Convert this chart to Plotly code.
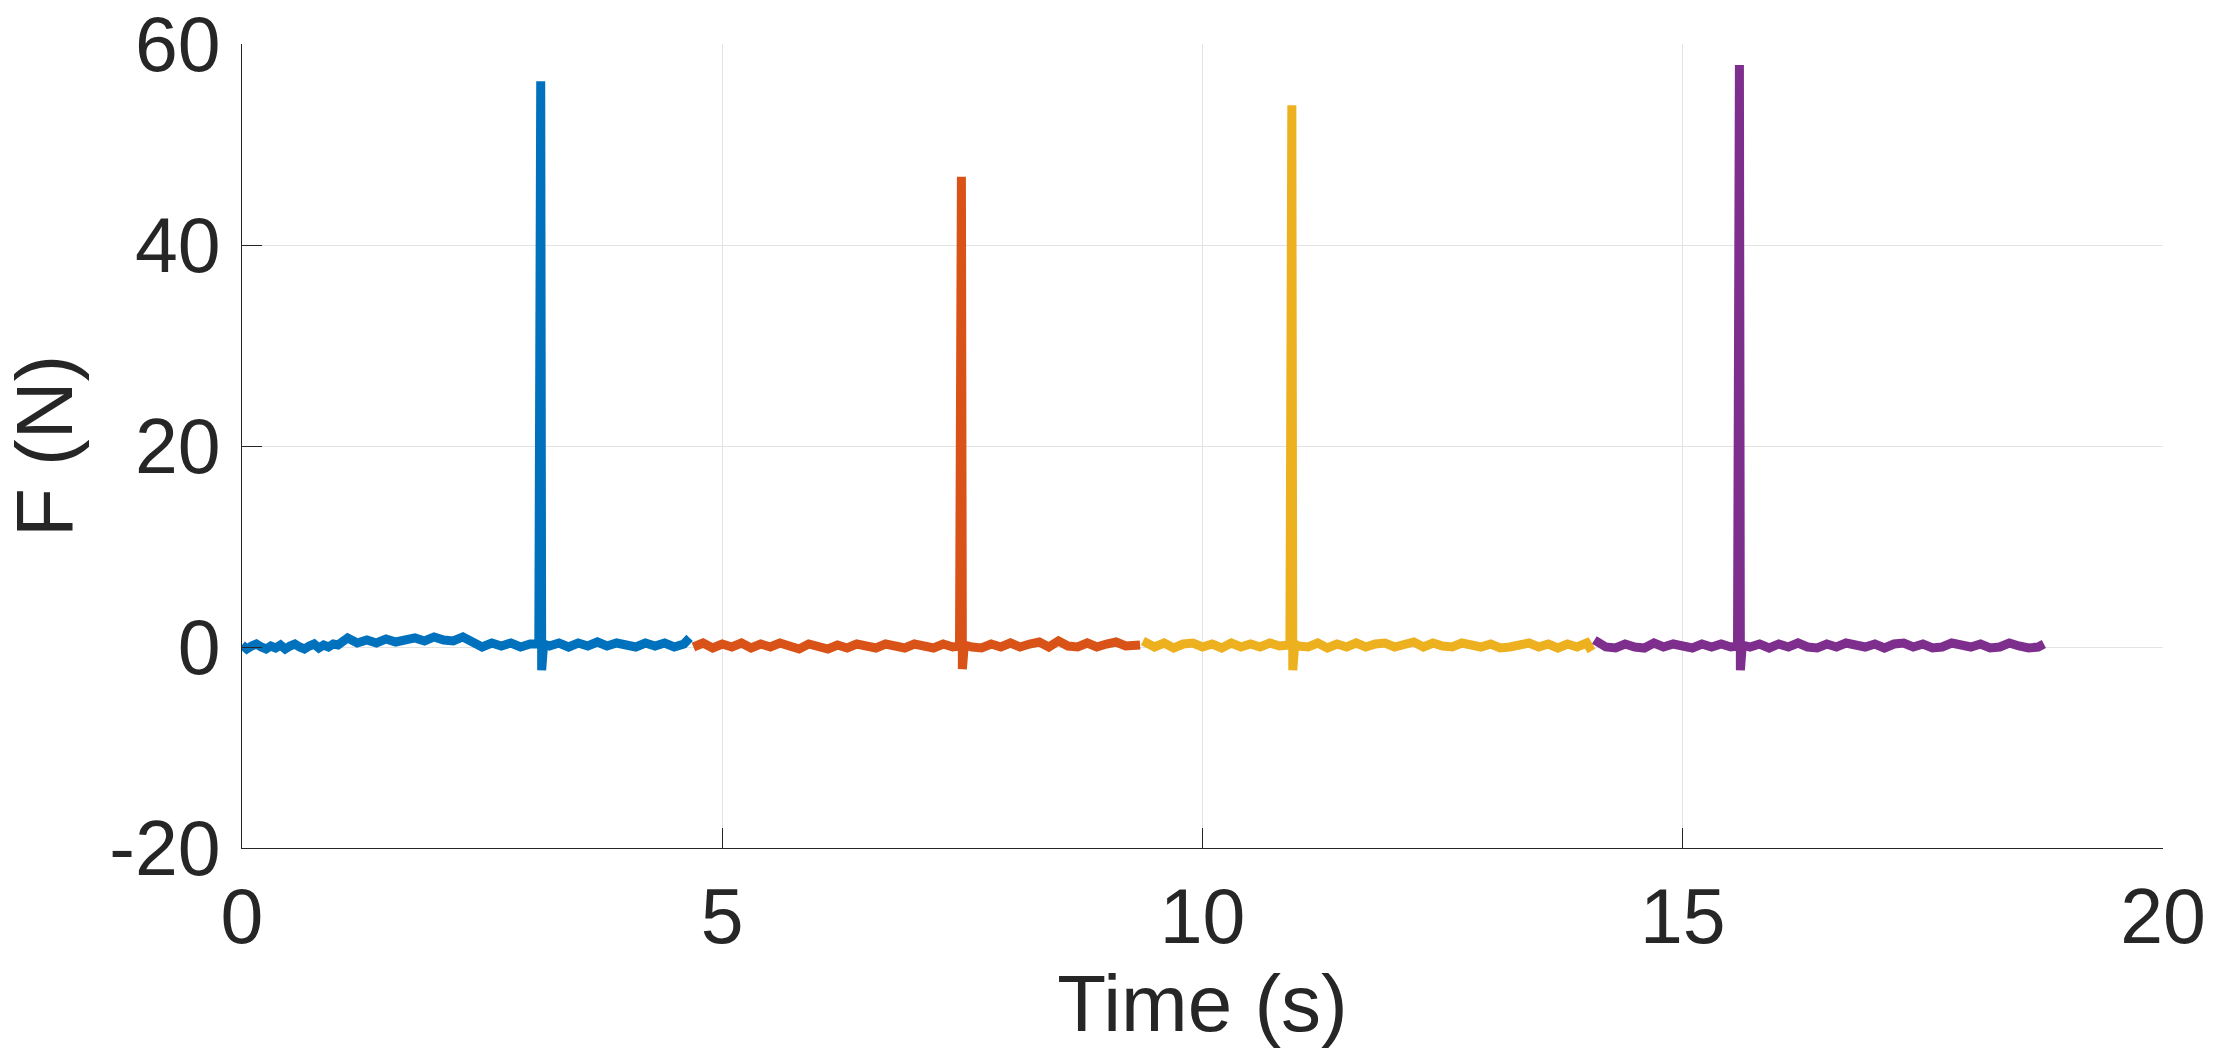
import plotly.graph_objects as go

# ---- data ----
blue_t = [0.00, 0.05, 0.10, 0.15, 0.20, 0.25, 0.30, 0.35, 0.40, 0.45, 0.50, 0.55, 0.60, 0.65,
          0.70, 0.75, 0.80, 0.85, 0.90, 0.95, 1.00,
          1.10, 1.20, 1.30, 1.40, 1.50, 1.60, 1.70, 1.80, 1.90, 2.00, 2.10, 2.20, 2.30, 2.40,
          2.50, 2.60, 2.70, 2.80, 2.90, 3.00,
          3.09, 3.11, 3.12, 3.14,
          3.20, 3.30, 3.40, 3.50, 3.60, 3.70, 3.80, 3.90, 4.00, 4.10, 4.20, 4.30, 4.40, 4.50, 4.60,
          4.66]
blue_f = [0.2, -0.2, 0.1, 0.3, 0.0, -0.2, 0.1, -0.1, 0.2, -0.2, 0.1, 0.3, 0.0, -0.2,
          0.1, 0.3, -0.1, 0.2, 0.0, 0.3, 0.2,
          0.9, 0.4, 0.7, 0.4, 0.8, 0.5, 0.6, 0.9, 0.6, 1.0, 0.7, 0.6, 1.0, 0.5,
          0.0, 0.4, 0.1, 0.4, 0.0, 0.3,
          0.3, 56.3, -2.3, 0.3,
          0.1, 0.4, 0.0, 0.4, 0.1, 0.5, 0.1, 0.4, 0.2, 0.0, 0.4, 0.1, 0.4, 0.0, 0.3,
          0.9]

orange_t = [4.70, 4.80, 4.90, 5.00, 5.10, 5.20, 5.30, 5.40, 5.50, 5.60, 5.70, 5.80, 5.90, 6.00,
            6.10, 6.20, 6.30, 6.40, 6.50, 6.60, 6.70, 6.80, 6.90, 7.00, 7.10, 7.20, 7.30, 7.40,
            7.47, 7.49, 7.50, 7.52,
            7.60, 7.70, 7.80, 7.90, 8.00, 8.10, 8.20, 8.30, 8.40, 8.50, 8.60, 8.70, 8.80, 8.90,
            9.00, 9.10, 9.20, 9.30,
            9.35]
orange_f = [0.0, 0.4, -0.1, 0.3, 0.0, 0.4, -0.1, 0.3, 0.0, 0.4, 0.1, -0.2, 0.3, 0.0,
            -0.2, 0.2, -0.1, 0.3, 0.0, -0.1, 0.3, 0.0, -0.1, 0.3, 0.0, -0.1, 0.3, 0.0,
            0.1, 46.8, -2.2, 0.2,
            0.0, -0.1, 0.3, 0.0, 0.4, 0.0, 0.3, 0.5, 0.0, 0.6, 0.1, 0.0, 0.4, 0.0,
            0.3, 0.5, 0.1, 0.3,
            0.2]

yellow_t = [9.38, 9.50, 9.60, 9.70, 9.80, 9.90, 10.00, 10.10, 10.20, 10.30, 10.40, 10.50,
            10.60, 10.70, 10.80,
            10.91, 10.93, 10.94, 10.96,
            11.00, 11.10, 11.20, 11.30, 11.40, 11.50, 11.60, 11.70, 11.80, 11.90, 12.00,
            12.10, 12.20, 12.30, 12.40, 12.50, 12.60, 12.70, 12.80, 12.90, 13.00,
            13.10, 13.20, 13.30, 13.40, 13.50, 13.60, 13.70, 13.80, 13.90, 14.00,
            14.05]
yellow_f = [0.6, 0.0, 0.4, -0.1, 0.3, 0.4, 0.0, 0.3, -0.1, 0.4, 0.0, 0.3,
            0.0, 0.4, 0.1,
            0.2, 53.9, -2.3, 0.3,
            0.1, 0.0, 0.4, -0.1, 0.3, 0.0, 0.4, 0.0, 0.3, 0.4, 0.0,
            0.3, 0.5, 0.0, 0.4, 0.1, 0.0, 0.4, 0.1, 0.0, 0.3,
            -0.1, 0.0, 0.3, 0.4, 0.0, 0.3, -0.1, 0.3, 0.0, 0.4,
            -0.4]

purple_t = [14.08, 14.20, 14.30, 14.40, 14.50, 14.60, 14.70, 14.80, 14.90, 15.00, 15.10,
            15.20, 15.30, 15.40, 15.50,
            15.57, 15.59, 15.60, 15.62,
            15.70, 15.80, 15.90, 16.00, 16.10, 16.20, 16.30, 16.40, 16.50, 16.60, 16.70,
            16.80, 16.90, 17.00, 17.10, 17.20, 17.30, 17.40, 17.50, 17.60, 17.70,
            17.80, 17.90, 18.00, 18.10, 18.20, 18.30, 18.40, 18.50, 18.60, 18.70,
            18.76]
purple_f = [0.7, 0.0, -0.1, 0.3, 0.0, -0.1, 0.4, 0.0, 0.3, 0.0, -0.1,
            0.3, 0.0, 0.3, 0.0,
            0.1, 57.9, -2.3, 0.2,
            0.0, 0.3, -0.1, 0.3, 0.0, 0.4, 0.0, -0.1, 0.3, 0.0, 0.4,
            0.1, 0.0, 0.3, -0.1, 0.3, 0.4, 0.0, 0.3, -0.1, 0.0,
            0.4, 0.1, 0.0, 0.3, -0.1, 0.0, 0.4, 0.1, -0.1, 0.0,
            0.3]

series = [
    (blue_t, blue_f, "#0072BD"),
    (orange_t, orange_f, "#D95319"),
    (yellow_t, yellow_f, "#EDB120"),
    (purple_t, purple_f, "#7E2F8E"),
]

x_ticks = [0, 5, 10, 15, 20]
y_ticks = [-20, 0, 20, 40, 60]
y_tick_text = ["-20", "0", "20", "40", "60"]

fig = go.Figure()
for t, f, c in series:
    fig.add_trace(go.Scatter(x=t, y=f, mode="lines",
                             line=dict(color=c, width=9),
                             showlegend=False, hoverinfo="skip"))

axis_col = "#262626"
grid_col = "#e3e3e3"
font_family = "Liberation Sans, Arial, sans-serif"

fig.update_layout(
    width=2216, height=1058,
    margin=dict(l=242, r=53, t=44, b=210, autoexpand=False),
    paper_bgcolor="white", plot_bgcolor="white",
    font=dict(family=font_family, color=axis_col, size=77),
    xaxis=dict(
        range=[0, 20], tickvals=x_ticks, automargin=False,
        showline=True, linecolor=axis_col, linewidth=1,
        showgrid=True, gridcolor=grid_col, gridwidth=1,
        zeroline=False,
        ticks="inside", ticklen=20, tickwidth=1, tickcolor=axis_col,
        tickfont=dict(size=77, color=axis_col),
        ticklabelstandoff=2, ticklabeloverflow="allow",
        title=dict(text="Time (s)", font=dict(size=80, color=axis_col), standoff=4),
    ),
    yaxis=dict(
        range=[-20, 60], tickvals=y_ticks, ticktext=y_tick_text, automargin=False,
        showline=True, linecolor=axis_col, linewidth=1,
        showgrid=True, gridcolor=grid_col, gridwidth=1,
        zeroline=False,
        ticks="inside", ticklen=20, tickwidth=1, tickcolor=axis_col,
        tickfont=dict(size=77, color=axis_col),
        ticklabelstandoff=5, ticklabeloverflow="allow",
        title=dict(text="F (N)", font=dict(size=80, color=axis_col), standoff=13),
    ),
)

# remove the default 8 px page margin so the figure fills the window exactly
fig.write_html("out.html", config={"displayModeBar": False},
               post_script="document.body.style.margin='0';")
